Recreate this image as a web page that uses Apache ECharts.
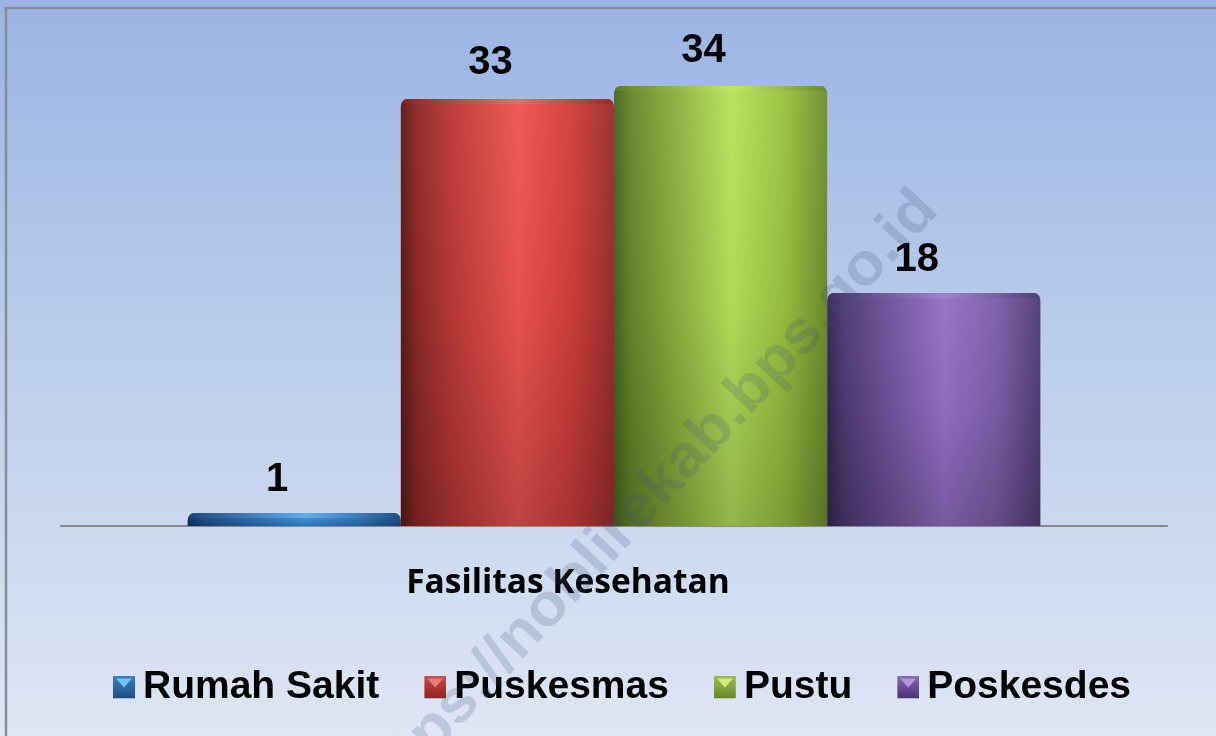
<!DOCTYPE html>
<html><head><meta charset="utf-8">
<style>html,body{margin:0;padding:0;background:#fff}#c{width:1216px;height:736px}</style>
<script src="https://cdn.jsdelivr.net/npm/echarts@6/dist/echarts.min.js"></script>
</head><body><div id="c"></div>
<script>
const categories = ['Fasilitas Kesehatan'];
const seriesNames = ['Rumah Sakit', 'Puskesmas', 'Pustu', 'Poskesdes'];
const rumahSakit = [1];
const puskesmas = [33];
const pustu = [34];
const poskesdes = [18];
const seriesValues = [rumahSakit, puskesmas, pustu, poskesdes];
const labelRise = [-8, -11, -10, -8];
const palettes = [
  {stops:['#16365f','#1f5088','#2a68ab','#3d92de','#2f75bc','#1f4f86'], light:'#7cc4f5', tl:'#6fc3f8', dark:'#1f4c7e', edge:'#3f7fbd', tile:'#2d69a6'},
  {stops:['#5e1a18','#8f2b28','#bd3a37','#ee5552','#d23e3c','#9a2f2d'], light:'#f07572', tl:'#ee7a76', dark:'#8b2523', edge:'#c65250', tile:'#b43633'},
  {stops:['#44661f','#66882c','#85a83a','#b6e35c','#99c240','#6f8e30'], light:'#c8ec6e', tl:'#cdee7a', dark:'#64842a', edge:'#9dbc4c', tile:'#86a93c'},
  {stops:['#35264f','#4f3a72','#6a4d94','#9670c6','#7d5ea8','#523d74'], light:'#a98ad6', tl:'#b196db', dark:'#4a3370', edge:'#8a6cb4', tile:'#6d509a'}
];
const shadeStops = [0, 0.08, 0.25, 0.55, 0.8, 1];
const bandFill = 0.771;

function grad(p){
  return {type:'linear',x:0,y:0,x2:1,y2:0,colorStops:p.stops.map((c,i)=>({offset:shadeStops[i],color:c}))};
}
function icon(p,i){
  const s = '<svg xmlns="http://www.w3.org/2000/svg" width="22" height="23" viewBox="0 0 22 23">'
   + `<defs><linearGradient id="g${i}" x1="0" y1="0" x2="0" y2="1"><stop offset="0" stop-color="${p.edge}"/><stop offset="0.45" stop-color="${p.tile}"/><stop offset="1" stop-color="${p.dark}"/></linearGradient></defs>`
   + `<rect width="22" height="23" fill="url(#g${i})"/>`
   + `<polygon points="3,3 19,3 11,12" fill="${p.tl}"/></svg>`;
  return 'image://data:image/svg+xml;charset=utf-8,' + encodeURIComponent(s);
}
const bars = seriesNames.map((name,i)=>({
  name, type:'bar', data:seriesValues[i], barGap:0, barCategoryGap:'22.9%',
  itemStyle:{color:grad(palettes[i]),borderRadius:[7,7,0,0]},
  label:{show:true,position:'top',offset:[-17,labelRise[i]],color:'#000',fontSize:40,fontWeight:'bold',fontFamily:'Liberation Sans'}
}));
const capData = seriesValues.map((v,i)=>[0,v[0],i]);
const caps = {
  type:'custom', silent:true, z:5, data:capData, clip:false,
  encode:{x:0,y:1},
  renderItem(params,api){
    const idx = api.value(2), val = api.value(1);
    const band = api.size([1,0])[0], w = band*bandFill/4;
    const c = api.coord([0,val]), b = api.coord([0,0]);
    const x = c[0]+(idx-2)*w, p = palettes[idx];
    const h = b[1]-c[1];
    return {type:'group',children:[
      {type:'rect',shape:{x,y:c[1],width:w,height:h,r:[7,7,0,0]},
       style:{fill:{type:'linear',x:0,y:0,x2:0,y2:1,colorStops:[{offset:0,color:'rgba(255,255,255,0.03)'},{offset:0.5,color:'rgba(0,0,0,0.04)'},{offset:1,color:'rgba(0,0,0,0.2)'}]}}},
      {type:'rect',shape:{x:x+1,y:c[1],width:w-2,height:Math.min(5,h),r:[5,5,0,0]},
       style:{fill:{type:'linear',x:0,y:0,x2:1,y2:0,colorStops:[{offset:0,color:p.dark},{offset:0.55,color:p.light},{offset:1,color:p.dark}]},opacity:0.55}}
    ]};
  }
};
const option = {
  animation:false,
  backgroundColor:{type:'linear',x:0,y:0,x2:0,y2:1,colorStops:[{offset:0,color:'#9ab4e3'},{offset:0.5,color:'#bccfec'},{offset:1,color:'#dfe6f5'}]},
  grid:{left:61,right:49,top:86,bottom:210},
  legend:{
    left:113,top:667.5,padding:0,itemGap:45,itemWidth:22,itemHeight:23,
    data:seriesNames.map((name,i)=>({name,icon:icon(palettes[i],i)})),
    textStyle:{color:'#000',fontSize:39,fontWeight:'bold',fontFamily:'Liberation Sans',padding:[0,0,0,3]}
  },
  xAxis:{type:'category',data:categories,
    axisLine:{lineStyle:{color:'#8a8a8a',width:2}},axisTick:{show:false},
    axisLabel:{color:'#000',fontSize:33.5,fontWeight:'bold',fontFamily:'Open Sans',margin:40,padding:[0,92,0,0]}},
  yAxis:{type:'value',min:0,max:34,show:false,splitLine:{show:false}},
  series:[...bars,caps],
  graphic:[
    {type:'rect',z:1,silent:true,shape:{x:6,y:8,width:1300,height:800},style:{fill:'none',stroke:'#8c8c8c',lineWidth:2.5}},
    {type:'text',z:100,silent:true,x:928,y:200,rotation:47*Math.PI/180,scaleX:1.05,scaleY:1,
     style:{text:'https://noblirekab.bps.go.id',align:'right',verticalAlign:'middle',fill:'rgba(60,80,120,0.2)',font:'bold 60px "Liberation Sans"'}}
  ]
};
echarts.init(document.getElementById('c'),null,{renderer:'canvas'}).setOption(option);
</script></body></html>
